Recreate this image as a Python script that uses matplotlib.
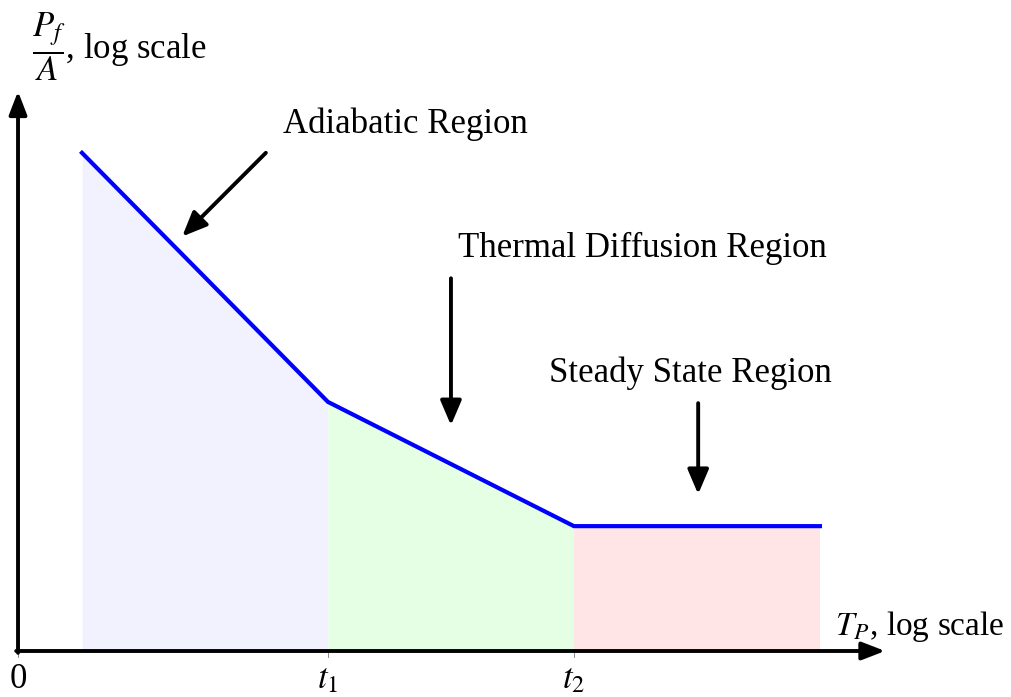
import matplotlib.pyplot as plt

plt.rcParams['font.family'] = ['Liberation Serif', 'DejaVu Serif']
plt.rcParams['mathtext.fontset'] = 'stix'

# break points of the piecewise curve (log-log units)
tp = [1.04, 5.04, 9.04, 13.04]
pf = [8.1, 4.05, 2.03, 2.03]
tick_pos = [0, 5.04, 9.04]
tick_labels = ['0', '$t_1$', '$t_2$']
region_colors = ['#f2f2ff', '#e5ffe5', '#ffe5e5']

fig = plt.figure(figsize=(10.12, 6.97), dpi=100)
ax = fig.add_axes([0, 0, 1, 1])
ax.set_xlim(-0.293, 16.163)
ax.set_ylim(-0.748, 10.585)
ax.axis('off')

# shaded regions under each segment
for i in range(3):
    ax.fill_between(tp[i:i + 2], pf[i:i + 2], 0, color=region_colors[i], lw=0)

ax.plot(tp, pf, color='blue', lw=3.0, solid_joinstyle='miter')

# axes with arrow heads
arrow = dict(arrowstyle='-|>,head_length=0.7,head_width=0.27', color='black',
             lw=2.8, shrinkA=0, shrinkB=0, mutation_scale=20)
ax.annotate('', xy=(0, 9.1), xytext=(0, -0.03), arrowprops=arrow)
ax.annotate('', xy=(14.1, 0), xytext=(-0.03, 0), arrowprops=arrow)

for x, lab in zip(tick_pos, tick_labels):
    ax.plot([x, x], [0, -0.1], color='#777777', lw=0.6)
    ax.text(x, -0.2, lab, ha='center', va='top', fontsize=25)

ax.text(0.22, 9.83, r'$\dfrac{P_f}{A}$, log scale', ha='left', va='center', fontsize=25)
ax.text(13.28, 0.4, '$T_P$, log scale', ha='left', va='center', fontsize=24)

# region annotations
pointer = dict(arrowstyle='-|>,head_length=0.75,head_width=0.32', color='black',
               lw=2.8, shrinkA=0, shrinkB=0, mutation_scale=20)
ax.text(6.3, 8.57, 'Adiabatic Region', ha='center', va='center', fontsize=25)
ax.annotate('', xy=(2.67, 6.74), xytext=(4.03, 8.1), arrowprops=pointer)
ax.text(10.16, 6.55, 'Thermal Diffusion Region', ha='center', va='center', fontsize=25)
ax.annotate('', xy=(7.04, 3.67), xytext=(7.04, 6.06), arrowprops=pointer)
ax.text(10.94, 4.52, 'Steady State Region', ha='center', va='center', fontsize=25)
ax.annotate('', xy=(11.06, 2.55), xytext=(11.06, 4.03), arrowprops=pointer)

fig.savefig('out.png', dpi=100)
